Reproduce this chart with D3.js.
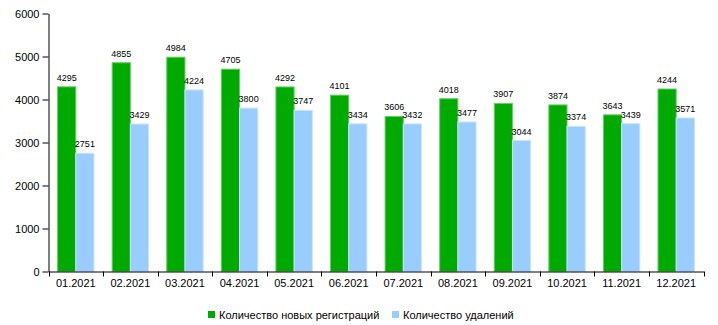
<!DOCTYPE html>
<html><head><meta charset="utf-8">
<script src="https://cdn.jsdelivr.net/npm/d3@7"></script>
<style>body{margin:0;background:#fff}svg{display:block}text{font-family:"Liberation Sans",Arial,sans-serif}</style>
</head><body>
<svg id="c" width="718" height="325"></svg>
<script>
const categories = ["01.2021","02.2021","03.2021","04.2021","05.2021","06.2021","07.2021","08.2021","09.2021","10.2021","11.2021","12.2021"];
const registrations = [4295,4855,4984,4705,4292,4101,3606,4018,3907,3874,3643,4244];
const deletions = [2751,3429,4224,3800,3747,3434,3432,3477,3044,3374,3439,3571];
const seriesNames = ["Количество новых регистраций","Количество удалений"];
const yTicks = [0,1000,2000,3000,4000,5000,6000];

const svg = d3.select("#c");
const mLeft = 48.5, mRight = 703.5, mTop = 13.5, mBottom = 271.5;
const x = d3.scaleBand().domain(categories).range([mLeft, mRight]).paddingInner(1/3).paddingOuter(1/6);
const y = d3.scaleLinear().domain([0,6000]).range([mBottom, mTop]);
const colors = ["#00aa00","#99ccff"];
const strokes = ["#66cc66","#c8e4ff"];
const series = [registrations, deletions];
const bw = x.bandwidth()/2;

series.forEach((vals, si) => {
  const g = svg.append("g");
  g.selectAll("rect").data(vals).enter().append("rect")
    .attr("x", (d,i) => x(categories[i]) + si*bw)
    .attr("y", d => y(d))
    .attr("width", bw)
    .attr("height", d => mBottom - y(d))
    .attr("fill", colors[si])
    .attr("stroke", strokes[si])
    .attr("stroke-width", 1);
  g.selectAll("text").data(vals).enter().append("text")
    .attr("x", (d,i) => x(categories[i]) + si*bw + bw/2)
    .attr("y", d => y(d) - 6)
    .attr("text-anchor", "middle")
    .attr("font-size", 9)
    .attr("fill", "#000")
    .text(d => d);
});

const yAxis = svg.append("g").attr("transform", `translate(${mLeft},0)`)
  .call(d3.axisLeft(y).tickValues(yTicks).tickSize(6).tickSizeOuter(0).tickFormat(d3.format("d")));
const xAxis = svg.append("g").attr("transform", `translate(0,${mBottom})`)
  .call(d3.axisBottom(x).tickSize(0).tickSizeOuter(0));
const bounds = categories.map(c => x(c) - x.step()*x.paddingInner()/2);
bounds.push(mRight);
xAxis.selectAll("line.b").data(bounds).enter().append("line").attr("class","b")
  .attr("x1", d=>Math.round(d)+0.5).attr("x2", d=>Math.round(d)+0.5).attr("y1",0).attr("y2",5).attr("stroke","#000");
[yAxis, xAxis].forEach(a => {
  a.selectAll("text").attr("font-size", 11).attr("fill","#000").style("font-family","'Liberation Sans',Arial,sans-serif");
  a.select(".domain").attr("stroke","#000");
  a.selectAll(".tick line").attr("stroke","#000");
});
xAxis.selectAll(".tick text").attr("dy", "1.1em").attr("y", 3);
yAxis.selectAll(".tick text").attr("x", -9);

const legend = svg.append("g");
const lx = [208, 392];
seriesNames.forEach((n, i) => {
  legend.append("rect").attr("x", lx[i]).attr("y", 311).attr("width", 7).attr("height", 7).attr("fill", colors[i]);
  legend.append("text").attr("x", lx[i] + 11).attr("y", 319).attr("font-size", 11).attr("fill","#000").text(n);
});
</script>
</body></html>
